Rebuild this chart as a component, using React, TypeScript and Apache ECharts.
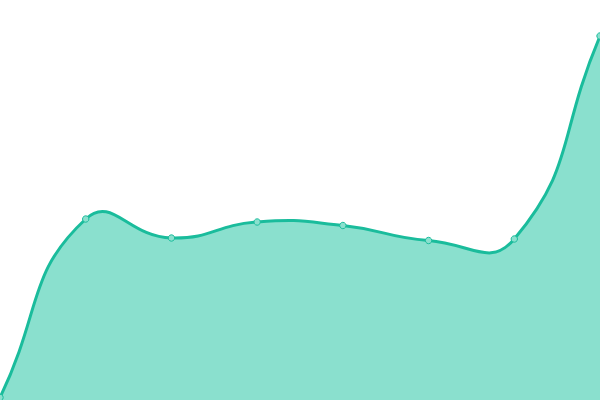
import React, { useEffect, useRef } from "react";
import * as echarts from "echarts";

const categories = ["A", "B", "C", "D", "E", "F", "G", "H"];
const values = [2.5, 181, 162, 178, 174.5, 159.5, 161, 364];
const yMin = 0;
const yMax = 400;
const smooth = 0.5;

const lineColor = "#1abc9c";
const areaColor = "#8ae0ce";

type Pt = [number, number];

function buildLinePath(pts: Pt[]): string {
  const n = pts.length;
  const cpIn: Pt[] = [];
  const cpOut: Pt[] = [];
  for (let i = 0; i < n; i++) {
    const cur = pts[i];
    const prev = i > 0 ? pts[i - 1] : cur;
    const next = i < n - 1 ? pts[i + 1] : cur;
    const vx = (next[0] - prev[0]) * smooth;
    const vy = (next[1] - prev[1]) * smooth;
    let d0 = Math.hypot(cur[0] - prev[0], cur[1] - prev[1]);
    let d1 = Math.hypot(cur[0] - next[0], cur[1] - next[1]);
    const sum = d0 + d1;
    if (sum !== 0) {
      d0 /= sum;
      d1 /= sum;
    }
    cpIn.push([cur[0] - vx * d0, cur[1] - vy * d0]);
    cpOut.push([cur[0] + vx * d1, cur[1] + vy * d1]);
  }
  let d = `M${pts[0][0]},${pts[0][1]}`;
  for (let i = 0; i < n - 1; i++) {
    const a = cpOut[i];
    const b = cpIn[i + 1];
    const p = pts[i + 1];
    d += ` C${a[0]},${a[1]} ${b[0]},${b[1]} ${p[0]},${p[1]}`;
  }
  return d;
}

export default function App() {
  const ref = useRef<HTMLDivElement>(null);
  useEffect(() => {
    if (!ref.current) return;
    const chart = echarts.init(ref.current, undefined, { renderer: "svg" });
    const data = values.map((v, i) => [i, v]);
    chart.setOption({
      animation: false,
      grid: { left: 0, right: 0, top: 0, bottom: 0 },
      xAxis: {
        type: "category",
        data: categories,
        boundaryGap: false,
        show: false,
      },
      yAxis: { type: "value", min: yMin, max: yMax, show: false },
      series: [
        {
          type: "custom",
          data,
          clip: false,
          renderItem: (params: any, api: any) => {
            const idx = params.dataIndex;
            const p = api.coord([api.value(0), api.value(1)]);
            const marker = {
              type: "circle",
              shape: { cx: p[0], cy: p[1], r: 3.2 },
              style: { fill: areaColor, stroke: lineColor, lineWidth: 1 },
              z2: 10,
            };
            if (idx !== 0) return marker;
            const pts: Pt[] = values.map((v, i) => api.coord([i, v]) as Pt);
            const linePath = buildLinePath(pts);
            const baseY = api.coord([0, yMin])[1];
            const areaPath =
              linePath +
              ` L${pts[pts.length - 1][0]},${baseY} L${pts[0][0]},${baseY} Z`;
            return {
              type: "group",
              children: [
                {
                  type: "path",
                  shape: { pathData: areaPath },
                  style: { fill: areaColor, stroke: "none" },
                  z2: 1,
                },
                {
                  type: "path",
                  shape: { pathData: linePath },
                  style: { fill: "none", stroke: lineColor, lineWidth: 3 },
                  z2: 2,
                },
                marker,
              ],
            };
          },
        },
      ],
    });
    return () => chart.dispose();
  }, []);
  return (
    <div
      ref={ref}
      style={{ position: "absolute", left: 0, top: 0, width: 600, height: 400 }}
    />
  );
}
